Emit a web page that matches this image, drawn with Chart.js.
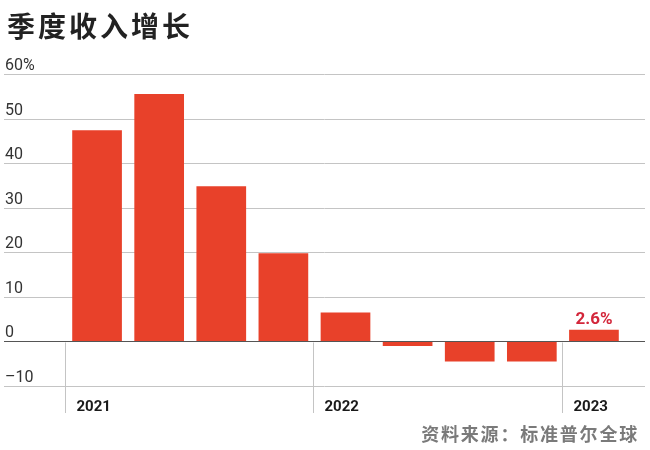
<!DOCTYPE html>
<html>
<head>
<meta charset="utf-8">
<script src="https://cdn.jsdelivr.net/npm/chart.js@4"></script>
<style>
  body { margin: 0; background: #fff; }
  .wrap { position: relative; width: 650px; height: 450px; }
  .title {
    position: absolute; left: 7px; top: 5px;
    font-family: "Noto Sans CJK SC"; font-weight: 700; font-size: 28px;
    letter-spacing: 3px; color: #222; line-height: 40px;
  }
  .source {
    position: absolute; right: 11px; top: 420px;
    font-family: "Noto Sans CJK SC"; font-weight: 700; font-size: 18px;
    letter-spacing: 1.8px; color: #7a7a7a; line-height: 26px;
  }
</style>
</head>
<body>
<div class="wrap">
  <canvas id="myChart" width="650" height="450"></canvas>
  <div class="title">季度收入增长</div>
  <div class="source">资料来源：标准普尔全球</div>
</div>
<script>
const quarters = ["2021 Q1", "2021 Q2", "2021 Q3", "2021 Q4", "2022 Q1", "2022 Q2", "2022 Q3", "2022 Q4", "2023 Q1"];
const growth = [47.4, 55.5, 34.8, 19.8, 6.5, -1.0, -4.5, -4.5, 2.6];
const years = ["2021", "2022", "2023"];
const yearStart = [0, 4, 8];
const yTicks = [-10, 0, 10, 20, 30, 40, 50, 60];
const yTickLabels = ["–10", "0", "10", "20", "30", "40", "50", "60%"];
const lastLabel = "2.6%";

// grid, year marks and the value label
const decorations = {
  id: "decorations",
  beforeDatasetsDraw(chart) {
    const ctx = chart.ctx
    const y = chart.scales.y
    ctx.save()
    ctx.font = "16px Roboto"
    ctx.textBaseline = "alphabetic"
    ctx.fillStyle = "#333"
    yTicks.forEach((v, i) => {
      const py = Math.round(y.getPixelForValue(v)) + 0.5
      if (v !== 0) {
        ctx.strokeStyle = "#c4c4c4"
        ctx.lineWidth = 1
        ctx.beginPath()
        ctx.moveTo(4, py)
        ctx.lineTo(645, py)
        ctx.stroke()
      }
      ctx.fillText(yTickLabels[i], 5, py - 5)
    })
    ctx.restore()
  },
  afterDatasetsDraw(chart) {
    const ctx = chart.ctx
    const x = chart.scales.x
    const y = chart.scales.y
    const zero = Math.round(y.getPixelForValue(0)) + 0.5
    const step = x.getPixelForValue(1) - x.getPixelForValue(0)
    ctx.save()
    ctx.strokeStyle = "#555"
    ctx.lineWidth = 1.2
    ctx.beginPath()
    ctx.moveTo(4, zero)
    ctx.lineTo(645, zero)
    ctx.stroke()

    ctx.strokeStyle = "#c4c4c4"
    ctx.lineWidth = 1
    ctx.font = "bold 15px Roboto"
    ctx.fillStyle = "#1a1a1a"
    ctx.textBaseline = "middle"
    years.forEach((yr, i) => {
      const px = Math.round(x.getPixelForValue(yearStart[i]) - step / 2) - 0.5
      ctx.beginPath()
      ctx.moveTo(px, zero + 1)
      ctx.lineTo(px, 413)
      ctx.stroke()
      ctx.fillText(yr, px + 11, 407)
    })

    const last = growth.length - 1
    ctx.font = "bold 17px Roboto"
    ctx.fillStyle = "#d3263a"
    ctx.textAlign = "center"
    ctx.textBaseline = "alphabetic"
    ctx.fillText(lastLabel, x.getPixelForValue(last), y.getPixelForValue(growth[last]) - 6)
    ctx.restore()
  }
}

new Chart(document.getElementById("myChart"), {
  type: "bar",
  data: {
    labels: quarters,
    datasets: [
      {
        data: growth,
        backgroundColor: "#e8412a",
        borderWidth: 0,
        barPercentage: 0.8,
        categoryPercentage: 1,
      },
    ],
  },
  options: {
    responsive: false,
    animation: false,
    layout: { padding: { left: 66, right: 25, top: 74, bottom: 64 } },
    plugins: { legend: { display: false }, tooltip: { enabled: false } },
    scales: {
      x: { display: false },
      y: { display: false, min: -10, max: 60 },
    },
  },
  plugins: [decorations],
});
</script>
</body>
</html>
